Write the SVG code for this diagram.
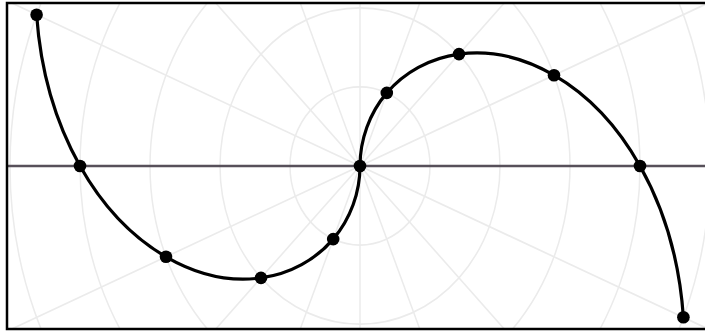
<svg xmlns="http://www.w3.org/2000/svg" width="705" height="331" viewBox="0 0 705 331">
  <style>
    .grid { fill: none; stroke: #ebebeb; stroke-width: 1.5; }
    .axis { stroke: #57505a; stroke-width: 2.5; }
    .curve { fill: none; stroke: #000; stroke-width: 3.2; stroke-linejoin: round; stroke-linecap: round; }
    .dot { fill: #000; }
    .frame { fill: none; stroke: #000; stroke-width: 2.5; }
  </style>
  <defs>
    <clipPath id="clip"><rect x="7" y="3" width="700" height="326"/></clipPath>
  </defs>
  <rect x="0" y="0" width="705" height="331" fill="#fff"/>
  <g id="grid" clip-path="url(#clip)">
    <g transform="translate(360,166) scale(1,1.13)">
      <circle class="grid" r="70"/>
      <circle class="grid" r="140"/>
      <circle class="grid" r="210"/>
      <circle class="grid" r="280"/>
      <circle class="grid" r="350"/>
      <circle class="grid" r="420"/>
      <g class="grid">
        <line x1="-500" y1="0" x2="500" y2="0" transform="rotate(22.5)"/>
        <line x1="-500" y1="0" x2="500" y2="0" transform="rotate(45)"/>
        <line x1="-500" y1="0" x2="500" y2="0" transform="rotate(67.5)"/>
        <line x1="-500" y1="0" x2="500" y2="0" transform="rotate(90)"/>
        <line x1="-500" y1="0" x2="500" y2="0" transform="rotate(112.5)"/>
        <line x1="-500" y1="0" x2="500" y2="0" transform="rotate(135)"/>
        <line x1="-500" y1="0" x2="500" y2="0" transform="rotate(157.5)"/>
      </g>
    </g>
  </g>
  <g id="axis">
    <line class="axis" x1="7" y1="166" x2="705" y2="166"/>
  </g>
  <g id="connectors">
    <path class="curve" d="M360,166 C360,139.63 369.41,113.29 386.8,92.9 C404.19,72.51 429.55,58.1 459,54.1 C488.45,50.1 521.93,56.59 554,75.2 C586.07,93.81 616.67,124.59 640,166 C663.33,207.41 679.38,259.39 683.4,317.3"/>
    <path class="curve" d="M360,166 C360,192.37 350.59,218.71 333.2,239.1 C315.81,259.49 290.45,273.9 261,277.9 C231.55,281.9 198.07,275.41 166,256.8 C133.93,238.19 103.33,207.41 80,166 C56.67,124.59 40.62,72.61 36.6,14.7"/>
  </g>
  <g id="points">
    <circle id="p0" class="dot" cx="360" cy="166" r="6.3"/>
    <circle id="p1" class="dot" cx="386.8" cy="92.9" r="6.3"/>
    <circle id="p2" class="dot" cx="459" cy="54.1" r="6.3"/>
    <circle id="p3" class="dot" cx="554" cy="75.2" r="6.3"/>
    <circle id="p4" class="dot" cx="640" cy="166" r="6.3"/>
    <circle id="p5" class="dot" cx="683.4" cy="317.3" r="6.3"/>
    <circle id="m1" class="dot" cx="333.2" cy="239.1" r="6.3"/>
    <circle id="m2" class="dot" cx="261" cy="277.9" r="6.3"/>
    <circle id="m3" class="dot" cx="166" cy="256.8" r="6.3"/>
    <circle id="m4" class="dot" cx="80" cy="166" r="6.3"/>
    <circle id="m5" class="dot" cx="36.6" cy="14.7" r="6.3"/>
  </g>
  <rect class="frame" x="7" y="3" width="702" height="326"/>
</svg>
